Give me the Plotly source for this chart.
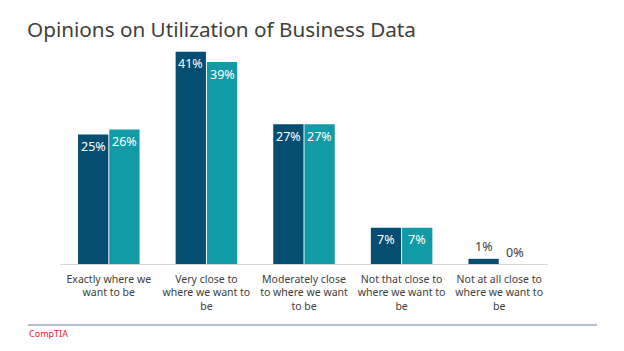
import plotly.graph_objects as go

categories = ["Exactly where we<br>want to be", "Very close to<br>where we want to<br>be",
              "Moderately close<br>to where we want<br>to be", "Not that close to<br>where we want to<br>be",
              "Not at all close to<br>where we want to<br>be"]
series_a = [25, 41, 27, 7, 1]
series_b = [26, 39, 27, 7, 0]
names = ["Series A", "Series B"]
title = "Opinions on Utilization of Business Data"
source = "CompTIA"

dark = "#054E72"
teal = "#119BA7"
font = "Noto Sans"

fig = go.Figure()
for vals, col, nm in [(series_a, dark, names[0]), (series_b, teal, names[1])]:
    fig.add_trace(go.Bar(
        x=categories, y=vals, name=nm, marker=dict(color=col, line=dict(width=0)),
        textposition="none", hoverinfo="skip",
    ))

# value labels (placed on each bar via axis coordinates)
for vals, shift in [(series_a, -15.6), (series_b, 15.6)]:
    for c, v in zip(categories, vals):
        inside = v >= 5
        fig.add_annotation(
            x=c, y=v, xref="x", yref="y", text=f"{v}%", showarrow=False,
            xshift=shift, yshift=-12 if inside else 12, yanchor="middle",
            font=dict(family=font, size=12.5, color="white" if inside else "#404040"),
        )

fig.update_layout(
    width=624, height=351, barmode="group", bargap=0.36, bargroupgap=0.03,
    margin=dict(l=60, r=76, t=31, b=87),
    paper_bgcolor="white", plot_bgcolor="white", showlegend=False,
    title=dict(text=title, x=27/624, xanchor="left", y=1-30/351, yanchor="middle",
               font=dict(family=font, size=20.7, color="#404040")),
    xaxis=dict(showline=True, linecolor="#D9D9D9", linewidth=1, ticks="",
               ticklabelstandoff=5,
               tickfont=dict(family=font, size=10.5, color="#404040"), showgrid=False),
    yaxis=dict(range=[0, 45], visible=False, showgrid=False, zeroline=False),
)
fig.add_shape(type="line", xref="paper", yref="paper",
              x0=(28-60)/488, x1=(597-60)/488, y0=(351-87-325)/233, y1=(351-87-325)/233,
              line=dict(color="#9AAABF", width=1.5))
fig.add_annotation(text=source, xref="paper", yref="paper", x=(27-60)/488, y=(351-87-333)/233,
                   xanchor="left", yanchor="middle", showarrow=False,
                   font=dict(family=font, size=9, color="#E3232B"))
fig.write_html("out.html")
